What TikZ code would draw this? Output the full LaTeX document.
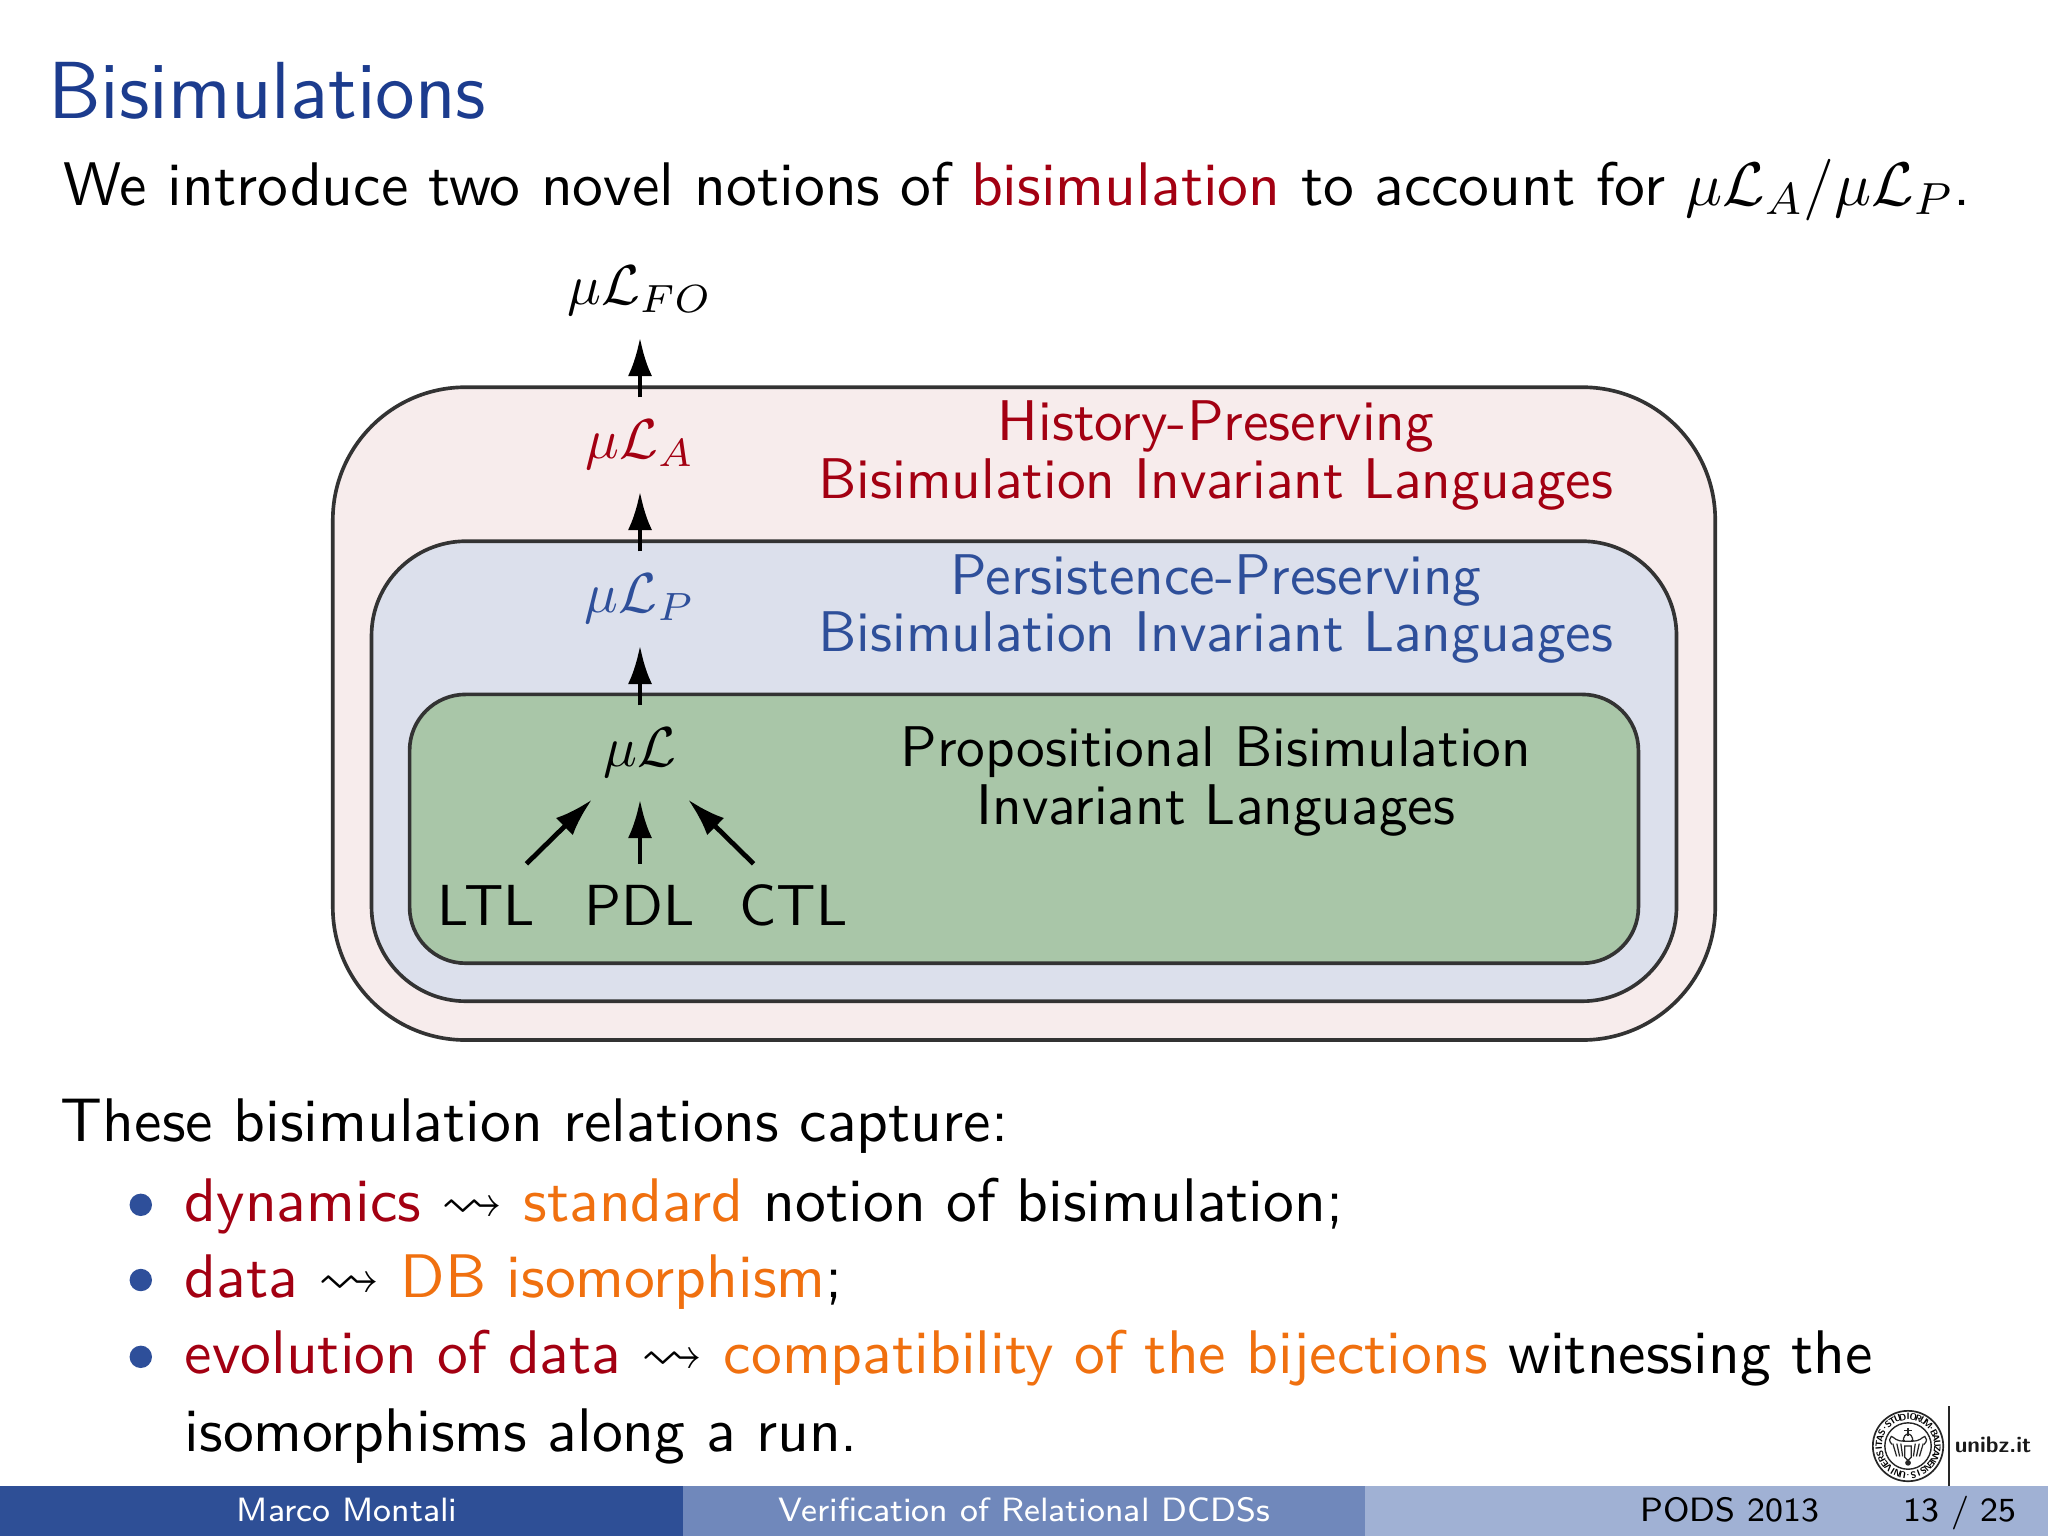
\documentclass[tikz,border=0pt]{standalone}
\usepackage{amssymb}
\usetikzlibrary{arrows.meta}
\definecolor{titleblue}{HTML}{1C3C8E}
\definecolor{midblue}{HTML}{2E4F9A}
\definecolor{darkred}{HTML}{A30012}
\definecolor{hiorange}{HTML}{F0700F}
\definecolor{edge}{HTML}{333333}
\definecolor{fillpink}{HTML}{F7ECEC}
\definecolor{fillblue}{HTML}{DCE0EC}
\definecolor{fillgreen}{HTML}{A9C6A8}
\definecolor{footone}{HTML}{2E4F96}
\definecolor{foottwo}{HTML}{7088BB}
\definecolor{footthree}{HTML}{A0B1D4}
\tikzstyle{langbox}=[draw=edge, line width=0.65pt, inner sep=0pt]
\tikzstyle{logic}=[inner sep=0pt, minimum width=0.5875cm, minimum height=0.575cm, text height=0.265cm, text depth=0.09cm]
\tikzstyle{basic}=[inner sep=0pt, scale=1.03, text height=0.365cm, text depth=0pt]
\tikzstyle{caption}=[align=center, inner sep=0pt, scale=1.02, font=\fontsize{10}{10.1}\selectfont]
\tikzstyle{body}=[anchor=base west, inner sep=0pt, font=\fontsize{10.95}{13}\selectfont]
\tikzstyle{ball}=[circle, fill=midblue, inner sep=0pt, minimum size=0.14cm]
\tikzstyle{footbar}=[anchor=south west, inner sep=0pt, outer sep=0pt, minimum height=0.31cm]
\tikzstyle{foottext}=[anchor=base, inner sep=0pt, font=\fontsize{6}{7}\selectfont]
\tikzstyle{sealchar}=[inner sep=0pt, scale=0.33, font=\tiny\bfseries]
\tikzstyle{arrowline}=[draw, line width=0.85pt, -{Latex[length=2.4mm,width=1.5mm]}]
\begin{document}
\begin{tikzpicture}
  \sffamily
  \useasboundingbox (0,0) rectangle (12.8,9.6);
  \path[fill=white] (0,0) rectangle (12.8,9.6);

  % Title and first line
  \path (0.294,8.862) node (title) [body, text=titleblue, font=\fontsize{14.4}{16}\selectfont] {Bisimulations};
  \path (0.39,8.318) node (intro) [body] {We introduce two novel notions of \textcolor{darkred}{bisimulation} to account for $\mu\mathcal{L}_A/\mu\mathcal{L}_P$.};

  % Nested boxes
  \path (6.4,5.14) node (hpbox) [langbox, fill=fillpink, rounded corners=0.83cm, minimum width=8.64cm, minimum height=4.08cm] {};
  \path (hpbox.center)+(0.0,-0.36) node (ppbox) [langbox, fill=fillblue, rounded corners=0.59cm, minimum width=8.156cm, minimum height=2.875cm] {};
  \path (ppbox.center)+(0.0,-0.36) node (pbbox) [langbox, fill=fillgreen, rounded corners=0.35cm, minimum width=7.68cm, minimum height=1.68cm] {};

  % Logics
  \path (4.0,4.897) node (mu) [logic] {$\mu\mathcal{L}$};
  \path (mu)+(0.0,0.9625) node (lp) [logic, text=midblue] {$\mu\mathcal{L}_P$};
  \path (lp)+(0.0,0.9625) node (la) [logic, text=darkred] {$\mu\mathcal{L}_A$};
  \path (la)+(0.0,0.9625) node (lfo) [logic] {$\mu\mathcal{L}_{FO}$};
  \path (4.0,4.006) node (pdl) [basic] {PDL};
  \path (pdl)+(-0.96,0.0) node (ltl) [basic] {LTL};
  \path (pdl)+(0.96,0.0) node (ctl) [basic] {CTL};

  % Captions
  \path (7.6,6.754) node (hptext) [caption, text=darkred] {History-Preserving\\Bisimulation Invariant Languages};
  \path (hptext)+(0.0,-0.96) node (pptext) [caption, text=midblue] {Persistence-Preserving\\Bisimulation Invariant Languages};
  \path (pptext)+(0.0,-1.08) node (pbtext) [caption] {Propositional Bisimulation\\Invariant Languages};

  % Arrows
  \path [arrowline] (la.north) -- (lfo.south);
  \path [arrowline] (lp.north) -- (la.south);
  \path [arrowline] (mu.north) -- (lp.south);
  \path [arrowline] (pdl.north) -- (mu.south);
  \path [arrowline] ([xshift=0.25cm]ltl.north) -- (mu.south west);
  \path [arrowline] ([xshift=-0.25cm]ctl.north) -- (mu.south east);

  % Lower text
  \path (0.374,2.466) node (capture) [body] {These bisimulation relations capture:};
  \path (1.148,1.968) node (itemone) [body] {\textcolor{darkred}{dynamics} $\rightsquigarrow$ \textcolor{hiorange}{standard} notion of bisimulation;};
  \path (1.148,1.493) node (itemtwo) [body] {\textcolor{darkred}{data} $\rightsquigarrow$ \textcolor{hiorange}{DB isomorphism};};
  \path (1.148,1.013) node (itemthree) [body] {\textcolor{darkred}{evolution of data} $\rightsquigarrow$ \textcolor{hiorange}{compatibility of the bijections} witnessing the};
  \path (1.148,0.528) node (itemfour) [body] {isomorphisms along a run.};
  \path (0.88,2.07) node (ballone) [ball] {};
  \path (0.88,1.6) node (balltwo) [ball] {};
  \path (0.88,1.12) node (ballthree) [ball] {};

  % Footer
  \path (0,0) node (foota) [footbar, fill=footone, minimum width=4.267cm] {};
  \path (foota.south east) node (footb) [footbar, fill=foottwo, minimum width=4.267cm] {};
  \path (footb.south east) node (footc) [footbar, fill=footthree, minimum width=4.266cm] {};
  \path (2.17,0.09) node (author) [foottext, text=white] {Marco Montali};
  \path (footb.south)+(0.0,0.09) node (talk) [foottext, text=white] {Verification of Relational DCDSs};
  \path (10.81,0.09) node (venue) [foottext, text=black] {PODS 2013};
  \path (12.25,0.09) node (page) [foottext, text=black] {13 / 25};

  % Logo
  \path (11.925,0.5625) node (seal) [circle, draw=black!85, line width=0.3pt, inner sep=0pt, minimum size=0.44cm] {};
  \path (seal.center) node (sealin) [circle, draw=black!85, line width=0.25pt, inner sep=0pt, minimum size=0.29cm] {};
  \foreach \ch [count=\i] in {U,N,I,V,E,R,S,I,T,A,S,.,S,T,U,D,I,O,R,U,M,.,B,A,U,Z,A,N,E,N,S,I,S,.}
    \path (seal.center)+({90-(\i-17)*360/34}:0.183) node (sc\i) [sealchar, rotate={-(\i-17)*360/34}] {\ch};
  \begin{scope}[shift={(seal.center)}, line width=0.22pt, black!85]
    \draw (-0.02,0.0) -- (-0.02,-0.07) -- (0.0,-0.09) -- (0.02,-0.07) -- (0.02,0.0) -- cycle;
    \draw (-0.03,0.03) .. controls (-0.03,0.09) and (0.03,0.09) .. (0.03,0.03) -- cycle;
    \draw (0.0,0.06) -- (0.0,0.11) (-0.025,0.095) -- (0.025,0.095);
    \draw (-0.02,0.035) .. controls (-0.07,0.02) and (-0.09,0.06) .. (-0.105,0.06) .. controls (-0.12,0.05) and (-0.12,0.03) .. (-0.1,0.01);
    \draw (0.02,0.035) .. controls (0.07,0.02) and (0.09,0.06) .. (0.105,0.06) .. controls (0.12,0.05) and (0.12,0.03) .. (0.1,0.01);
    \foreach \fx in {-0.095,-0.07,-0.045}
      \draw (\fx,0.015) -- ({\fx*0.75},-0.065);
    \foreach \fx in {0.095,0.07,0.045}
      \draw (\fx,0.015) -- ({\fx*0.75},-0.065);
    \fill (0.0,-0.105) circle (0.018);
  \end{scope}
  \path (12.456,0.57) node (unibz) [inner sep=0pt, scale=0.67, font=\fontsize{6}{7}\selectfont\bfseries, text=black!90] {unibz.it};
  \path (12.18,0.81) coordinate (barup);
  \path (12.18,0.31) coordinate (bardown);
  \draw [line width=0.45pt, black!85] (barup) -- (bardown);
\end{tikzpicture}
\end{document}
